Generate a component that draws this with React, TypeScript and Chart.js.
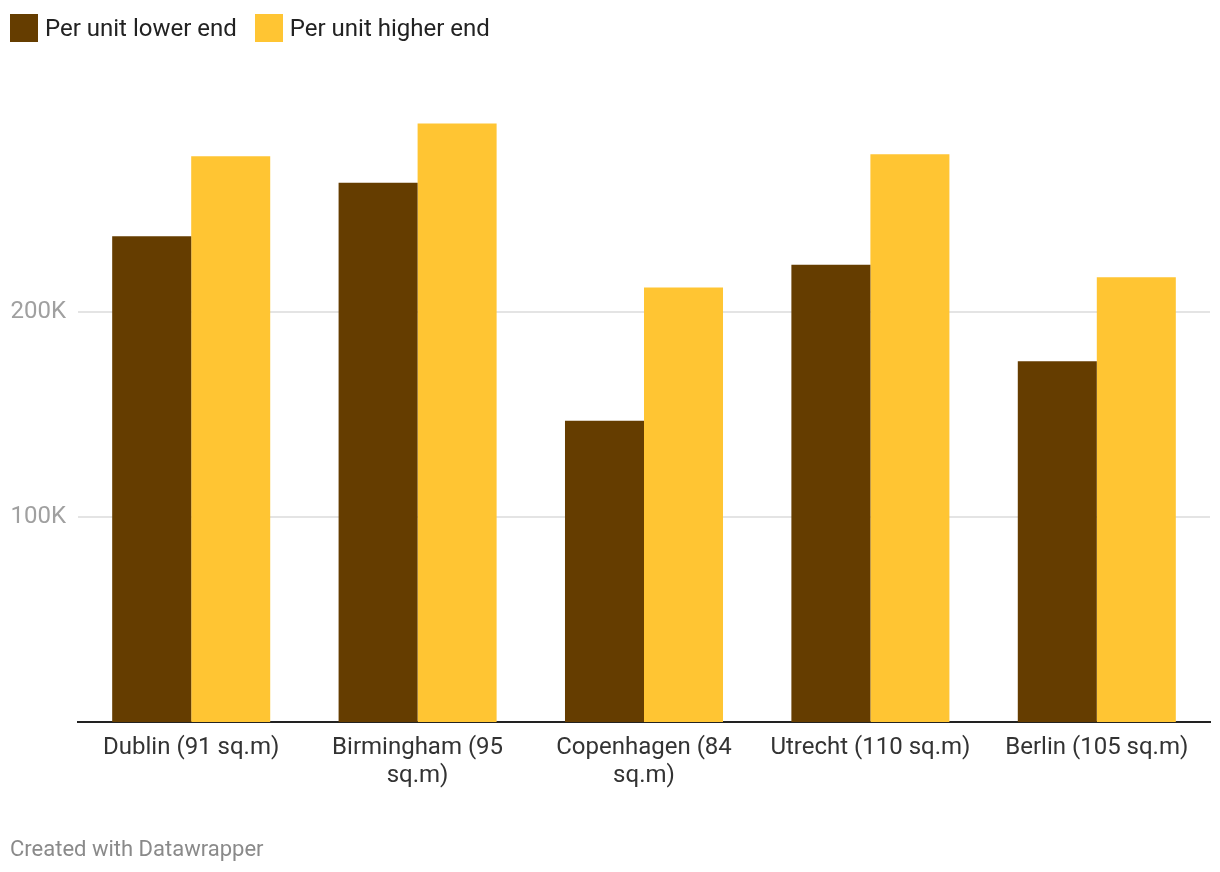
import React, { useEffect, useRef } from "react";
import { Chart, registerables } from "chart.js";

Chart.register(...registerables);

const categories: string[][] = [
  ["Dublin (91 sq.m)"],
  ["Birmingham (95", "sq.m)"],
  ["Copenhagen (84", "sq.m)"],
  ["Utrecht (110 sq.m)"],
  ["Berlin (105 sq.m)"],
];
const lowerEnd = [237000, 263000, 147000, 223000, 176000];
const higherEnd = [276000, 292000, 212000, 277000, 217000];
const seriesNames = ["Per unit lower end", "Per unit higher end"];
const seriesColors = ["#653d00", "#ffc533"];
const yTickValues = [100000, 200000];

const FONT = "Roboto, 'Noto Sans', sans-serif";

export default function App() {
  const ref = useRef<HTMLCanvasElement | null>(null);

  useEffect(() => {
    if (!ref.current) return;
    const chart = new Chart(ref.current, {
      type: "bar",
      data: {
        labels: categories,
        datasets: [
          {
            label: seriesNames[0],
            data: lowerEnd,
            backgroundColor: seriesColors[0],
            barPercentage: 1,
            categoryPercentage: 0.698,
          },
          {
            label: seriesNames[1],
            data: higherEnd,
            backgroundColor: seriesColors[1],
            barPercentage: 1,
            categoryPercentage: 0.698,
          },
        ],
      },
      options: {
        animation: false,
        responsive: false,
        maintainAspectRatio: false,
        layout: { padding: { top: 107, left: 0, right: 10, bottom: 50 } },
        plugins: {
          legend: { display: false },
          tooltip: { enabled: false },
        },
        scales: {
          x: {
            grid: { display: false, drawTicks: false },
            border: { display: true, color: "#222222", width: 2 },
            ticks: {
              color: "#333333",
              font: { family: FONT, size: 24, lineHeight: 1.167 },
              padding: 12,
              maxRotation: 0,
              autoSkip: false,
            },
            afterFit: (s: any) => {
              s.height = 100;
            },
          },
          y: {
            min: 0,
            max: 300000,
            border: { display: false },
            afterBuildTicks: (s: any) => {
              s.ticks = yTickValues.map((v) => ({ value: v }));
            },
            grid: {
              color: "#e4e4e4",
              lineWidth: 2,
              drawTicks: false,
            },
            ticks: {
              color: "#a0a0a0",
              font: { family: FONT, size: 24 },
              padding: 12,
              callback: (v: any) => `${Number(v) / 1000}K`,
            },
            afterFit: (s: any) => {
              s.width = 78;
            },
          },
        },
      },
    });
    return () => chart.destroy();
  }, []);

  return (
    <div
      style={{
        position: "absolute",
        left: 0,
        top: 0,
        width: 1220,
        height: 872,
        background: "#fff",
        fontFamily: FONT,
      }}
    >
      <canvas ref={ref} width={1220} height={872} style={{ position: "absolute", left: 0, top: 0 }} />
      <div
        style={{
          position: "absolute",
          left: 10,
          top: 14,
          display: "flex",
          alignItems: "center",
          fontSize: 24,
          color: "#222",
          lineHeight: "28px",
        }}
      >
        {seriesNames.map((n, i) => (
          <div key={n} style={{ display: "flex", alignItems: "center", marginRight: 18 }}>
            <span
              style={{
                display: "inline-block",
                width: 28,
                height: 28,
                background: seriesColors[i],
                marginRight: 7,
              }}
            />
            <span>{n}</span>
          </div>
        ))}
      </div>
      <div
        style={{
          position: "absolute",
          left: 10,
          top: 835,
          fontSize: 22,
          color: "#8a8a8a",
          lineHeight: "28px",
        }}
      >
        Created with Datawrapper
      </div>
    </div>
  );
}
